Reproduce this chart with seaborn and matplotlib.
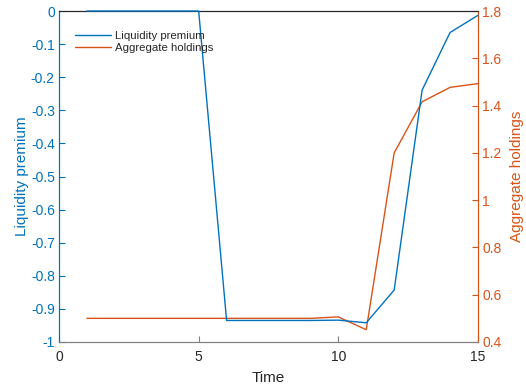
import matplotlib
matplotlib.use("Agg")
import matplotlib.pyplot as plt
import seaborn as sns
import pandas as pd

sns.set_theme(style="white")
plt.rcParams["font.family"] = ["Liberation Sans", "DejaVu Sans"]

time = [1, 2, 3, 4, 5, 6, 7, 8, 9, 10, 11, 12, 13, 14, 15]
liquidity_premium = [0, 0, 0, 0, 0, -0.935, -0.935, -0.935, -0.935, -0.934,
                     -0.942, -0.843, -0.239, -0.065, -0.013]
aggregate_holdings = [0.5, 0.5, 0.5, 0.5, 0.5, 0.5, 0.5, 0.5, 0.5, 0.506,
                      0.452, 1.2, 1.416, 1.477, 1.493]

df = pd.DataFrame({"Time": time, "lp": liquidity_premium, "agg": aggregate_holdings})

blue = "#0072BD"
orange = "#D95319"
dark = "#262626"

fig = plt.figure(figsize=(5.26, 3.88), dpi=100)
ax = fig.add_axes([0.1122, 0.1186, 0.7965, 0.853])
ax2 = ax.twinx()
# keep the left-axis curve above the twin axes so the flat segment at 0 shows over the frame
ax.set_zorder(ax2.get_zorder() + 1)
ax.patch.set_visible(False)

sns.lineplot(data=df, x="Time", y="lp", ax=ax, color=blue, linewidth=1.0,
             label="Liquidity premium", legend=False, clip_on=False, zorder=5)
sns.lineplot(data=df, x="Time", y="agg", ax=ax2, color=orange, linewidth=1.0,
             label="Aggregate holdings", legend=False)

ax.set_xlim(0, 15)
ax.set_ylim(-1, 0)
ax2.set_ylim(0.4, 1.8)
ax.set_xticks([0, 5, 10, 15])
ax.set_yticks([i / 10 for i in range(-10, 1)])
ax.set_yticklabels(["-1", "-0.9", "-0.8", "-0.7", "-0.6", "-0.5", "-0.4",
                    "-0.3", "-0.2", "-0.1", "0"])
ax2.set_yticks([0.4, 0.6, 0.8, 1.0, 1.2, 1.4, 1.6, 1.8])
ax2.set_yticklabels(["0.4", "0.6", "0.8", "1", "1.2", "1.4", "1.6", "1.8"])

ax.set_xlabel("Time", fontsize=11, color=dark, labelpad=5)
ax.set_ylabel("Liquidity premium", fontsize=11, color=blue, labelpad=1)
ax2.set_ylabel("Aggregate holdings", fontsize=11, color=orange, labelpad=6)

for a in (ax, ax2):
    for s in a.spines.values():
        s.set_linewidth(0.8)
    a.spines["top"].set_color(dark)
    a.spines["bottom"].set_color("#808080")
    a.spines["left"].set_color(blue)
    a.spines["right"].set_color(orange)

ax.tick_params(axis="x", direction="in", length=4, width=0.8, colors="#808080",
               labelcolor=dark, labelsize=10, pad=6, bottom=True, top=False)
ax.tick_params(axis="y", direction="in", length=4, width=0.8, colors=blue,
               labelcolor=blue, labelsize=10, pad=3, left=True, right=False)
ax2.tick_params(axis="y", direction="in", length=4, width=0.8, colors=orange,
                labelcolor=orange, labelsize=10, pad=3, right=True, left=False)

h1, l1 = ax.get_legend_handles_labels()
h2, l2 = ax2.get_legend_handles_labels()
ax.legend(h1 + h2, l1 + l2, loc="upper left", frameon=False, fontsize=8.2,
          handlelength=3.2, handletextpad=0.35, labelspacing=0.25,
          bbox_to_anchor=(0.018, 0.965), borderaxespad=0.3)

fig.savefig("out.png", dpi=100)
